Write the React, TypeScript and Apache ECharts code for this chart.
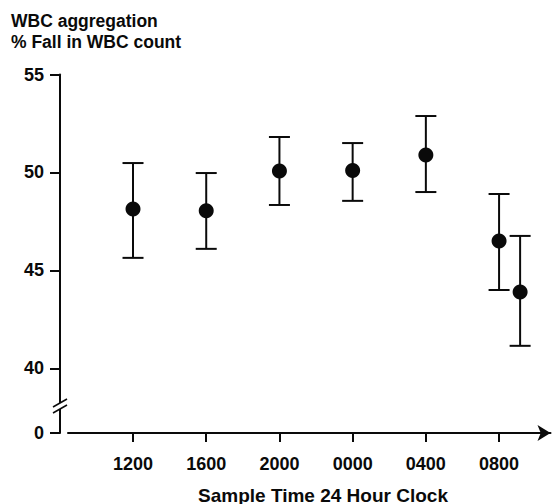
import React, { useEffect, useRef } from "react";
import * as echarts from "echarts";

// hours after 12:00 (1200 = 0)
const tickHours = [0, 4, 8, 12, 16, 20];
const tickLabels = ["1200", "1600", "2000", "0000", "0400", "0800"];
const sampleHours = [0, 4, 8, 12, 16, 20, 21.15];
const means = [48.14, 48.04, 50.08, 50.1, 50.89, 46.5, 43.9];
const upper = [50.48, 49.97, 51.81, 51.5, 52.88, 48.9, 46.76];
const lower = [45.64, 46.1, 48.34, 48.55, 49.0, 44.0, 41.15];
const yTicks = [36.7, 40, 45, 50, 55];
const yMin = 36.7;
const yMax = 55;

const FONT = "'Liberation Sans', Arial, Helvetica, sans-serif";
const INK = "#0a0a0a";

export default function App() {
  const ref = useRef<HTMLDivElement>(null);
  useEffect(() => {
    if (!ref.current) return;
    const chart = echarts.init(ref.current, null, { renderer: "svg" });
    const points = sampleHours.map((h, i) => [h, means[i]]);
    const bars = sampleHours.map((h, i) => [h, lower[i], upper[i]]);
    chart.setOption({
      animation: false,
      backgroundColor: "#fff",
      textStyle: { fontFamily: FONT },
      grid: { left: 68, right: 6.5, top: 74.5, bottom: 71, containLabel: false },
      title: {
        text: "WBC aggregation\n% Fall in WBC count",
        left: 6,
        top: 5,
        textStyle: { fontFamily: FONT, fontSize: 17.5, fontWeight: "bold", color: INK, lineHeight: 21 },
      },
      xAxis: {
        type: "value",
        min: -3.552,
        max: 22.81,
        splitLine: { show: false },
        axisLine: {
          show: true,
          onZero: false,
          lineStyle: { color: INK, width: 2 },
          symbol: ["none", "arrow"],
          symbolSize: [12, 13],
        },
        axisTick: { show: true, length: 9, lineStyle: { color: INK, width: 2 }, customValues: tickHours },
        axisLabel: {
          customValues: tickHours,
          margin: 22,
          fontFamily: FONT,
          fontSize: 18,
          fontWeight: "bold",
          color: INK,
          formatter: (v: number) => {
            const i = tickHours.indexOf(v);
            return i >= 0 ? tickLabels[i] : "";
          },
        },
      },
      yAxis: {
        type: "value",
        min: yMin,
        max: yMax,
        offset: 8,
        splitLine: { show: false },
        axisLine: { show: true, onZero: false, lineStyle: { color: INK, width: 2 } },
        axisTick: { show: true, length: 10, lineStyle: { color: INK, width: 2 }, customValues: yTicks },
        axisLabel: {
          customValues: yTicks,
          margin: 16,
          fontFamily: FONT,
          fontSize: 18,
          fontWeight: "bold",
          color: INK,
          formatter: (v: number) => (v < 39 ? "0" : String(Math.round(v))),
        },
      },
      graphic: [
        { type: "rect", shape: { x: 55, y: 403, width: 10, height: 6 }, style: { fill: "#fff" }, z: 100 },
        { type: "line", shape: { x1: 53, y1: 407, x2: 67, y2: 399 }, style: { stroke: INK, lineWidth: 1.6 }, z: 101 },
        { type: "line", shape: { x1: 53, y1: 413, x2: 67, y2: 405 }, style: { stroke: INK, lineWidth: 1.6 }, z: 101 },
        {
          type: "text",
          x: 323,
          y: 495,
          style: {
            text: "Sample Time 24 Hour Clock",
            fontFamily: FONT,
            fontSize: 19,
            fontWeight: "bold",
            fill: INK,
            align: "center",
            verticalAlign: "middle",
          },
        },
      ],
      series: [
        {
          type: "custom",
          data: bars,
          renderItem: (params: any, api: any) => {
            const x = api.value(0);
            const lo = api.coord([x, api.value(1)]);
            const hi = api.coord([x, api.value(2)]);
            const hw = 10.5;
            const st = { stroke: INK, lineWidth: 2 };
            return {
              type: "group",
              children: [
                { type: "line", shape: { x1: lo[0], y1: lo[1], x2: hi[0], y2: hi[1] }, style: st },
                { type: "line", shape: { x1: hi[0] - hw, y1: hi[1], x2: hi[0] + hw, y2: hi[1] }, style: st },
                { type: "line", shape: { x1: lo[0] - hw, y1: lo[1], x2: lo[0] + hw, y2: lo[1] }, style: st },
              ],
            };
          },
          z: 2,
        },
        {
          type: "scatter",
          data: points,
          symbol: "circle",
          symbolSize: 15,
          itemStyle: { color: INK, opacity: 1 },
          z: 3,
        },
      ],
    });
    return () => chart.dispose();
  }, []);
  return (
    <div
      ref={ref}
      style={{ position: "fixed", left: 0, top: 0, width: 557, height: 504, background: "#fff" }}
    />
  );
}
